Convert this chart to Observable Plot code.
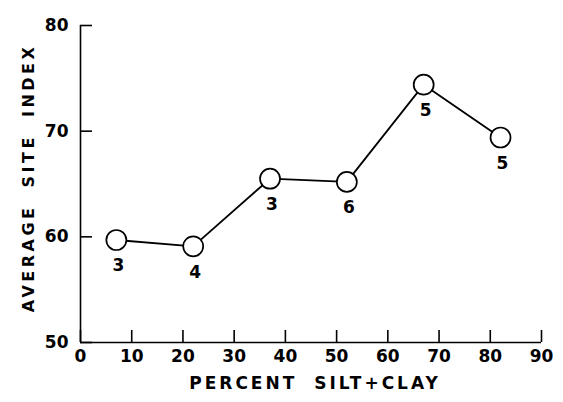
<!DOCTYPE html>
<html>
<head>
<meta charset="utf-8">
<script src="https://cdn.jsdelivr.net/npm/d3@7"></script>
<script src="https://cdn.jsdelivr.net/npm/@observablehq/plot@0.6"></script>
<style>
  html, body { margin: 0; padding: 0; background: #fff; }
  #chart svg { display: block; }
  .x-title { letter-spacing: 3px; word-spacing: 8px; }
  .y-title { letter-spacing: 3.5px; word-spacing: 8px; }
</style>
</head>
<body>
<div id="chart"></div>
<script>
// Data
const silt = [7, 22, 37, 52, 67, 82];                 // percent silt+clay
const siteIndex = [59.7, 59.1, 65.5, 65.2, 74.4, 69.4]; // average site index
const counts = [3, 4, 3, 6, 5, 5];                      // number of plots
const xTicks = [0, 10, 20, 30, 40, 50, 60, 70, 80, 90];
const yTicks = [50, 60, 70, 80];
const xTitle = "PERCENT SILT+CLAY";
const yTitle = "AVERAGE SITE INDEX";

const data = silt.map((x, i) => ({x, y: siteIndex[i], n: counts[i]}));

const font = "DejaVu Sans, sans-serif";

const chart = Plot.plot({
  width: 563,
  height: 402,
  marginTop: 25,
  marginBottom: 60,
  marginLeft: 80,
  marginRight: 22,
  style: {fontFamily: font, background: "#fff", color: "#000"},
  x: {domain: [0, 90]},
  y: {domain: [50, 80]},
  marks: [
    Plot.ruleX([0], {stroke: "#000", strokeWidth: 1.6}),
    Plot.ruleY([50], {stroke: "#000", strokeWidth: 1.6}),
    Plot.axisY(yTicks, {
      tickSize: -12, tickPadding: 24, strokeWidth: 1.6,
      fontSize: 17, fontWeight: "bold",
      label: null
    }),
    Plot.axisX(xTicks, {
      tickSize: -12, tickPadding: 19, strokeWidth: 1.6,
      fontSize: 17, fontWeight: "bold",
      label: null
    }),
    Plot.text([xTitle], {
      frameAnchor: "bottom", dy: 46, fontSize: 17, fontWeight: "bold",
      dx: 4, className: "x-title"
    }),
    Plot.text([yTitle], {
      frameAnchor: "left", textAnchor: "middle", dx: -52, dy: -6, rotate: -90,
      fontSize: 16, fontWeight: "bold", className: "y-title"
    }),
    Plot.line(data, {x: "x", y: "y", stroke: "#000", strokeWidth: 1.8}),
    Plot.dot(data, {x: "x", y: "y", r: 10, fill: "#fff", stroke: "#000", strokeWidth: 1.7}),
    Plot.text(data, {x: "x", y: "y", text: "n", dy: 26, fontSize: 17, fontWeight: "bold", dx: 2})
  ]
});
document.getElementById("chart").appendChild(chart);
</script>
</body>
</html>
